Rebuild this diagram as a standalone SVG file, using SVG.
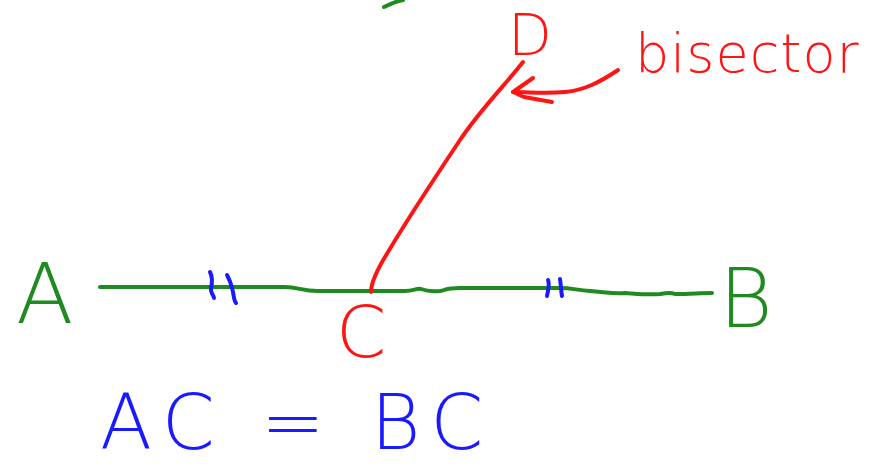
<svg xmlns="http://www.w3.org/2000/svg" width="882" height="468" viewBox="0 0 882 468">
<style>
.ln{fill:none;stroke-linecap:round;stroke-linejoin:round;stroke-width:4}
.g{stroke:#1f8a1f}
.r{stroke:#ff1414}
.b{stroke:#1a1aff}
.t{font-family:"DejaVu Sans","Liberation Sans",sans-serif;font-weight:200}
.tg{fill:#1f8a1f}
.tr{fill:#ff1414}
.tb{fill:#1a1aff}
</style>
<rect width="882" height="468" fill="#ffffff"/>
<g id="segment">
<path class="ln g" d="M100,287 L285,287 C298,287 302,291 318,291 L405,291 C414,291 416,288 421,289 C426,291 430,292 440,291 C446,290 446,288 460,288 L560,288 C572,288 576,290 590,291 C605,292 612,294 625,293 C640,294 650,295 660,294 C666,293 670,292 675,294 C690,294 700,293 712,293"/>
<path class="ln g" d="M384,7 C392,3 398,1 403,0"/>
</g>
<g id="ticks">
<path class="ln b" d="M210,272 C213,278 212,284 211,288 C210,292 214,296 214,298"/>
<path class="ln b" d="M227,275 C231,282 232,288 233,292 C234,297 234,301 236,303"/>
<path class="ln b" d="M548,280 C550,285 548,290 547,296"/>
<path class="ln b" d="M560,279 C561,285 561,291 562,296"/>
</g>
<g id="bisector-line">
<path class="ln r" d="M371,292 C371,282 378,268 388,252 C410,215 440,170 460,140 C480,110 505,85 523,62"/>
</g>
<g id="arrow">
<path class="ln r" d="M618,70 C600,82 585,90 565,92 C545,94 530,92 513,92"/>
<path class="ln r" d="M533,78 L513,92 L524,97 L552,102"/>
</g>
<g id="labels">
<text id="A" class="t tg" x="16" y="323" font-size="84">A</text>
<text id="B" class="t tg" x="719" y="327" font-size="82">B</text>
<text id="C" class="t tr" x="336" y="357" font-size="72">C</text>
<text id="D" class="t tr" x="508" y="55" font-size="57">D</text>
<text id="bisector" class="t tr" x="635" y="72" font-size="54" letter-spacing="1">bisector</text>
<text id="eq" class="t tb" x="100" y="449" font-size="76" letter-spacing="11">AC = BC</text>
</g>
</svg>
